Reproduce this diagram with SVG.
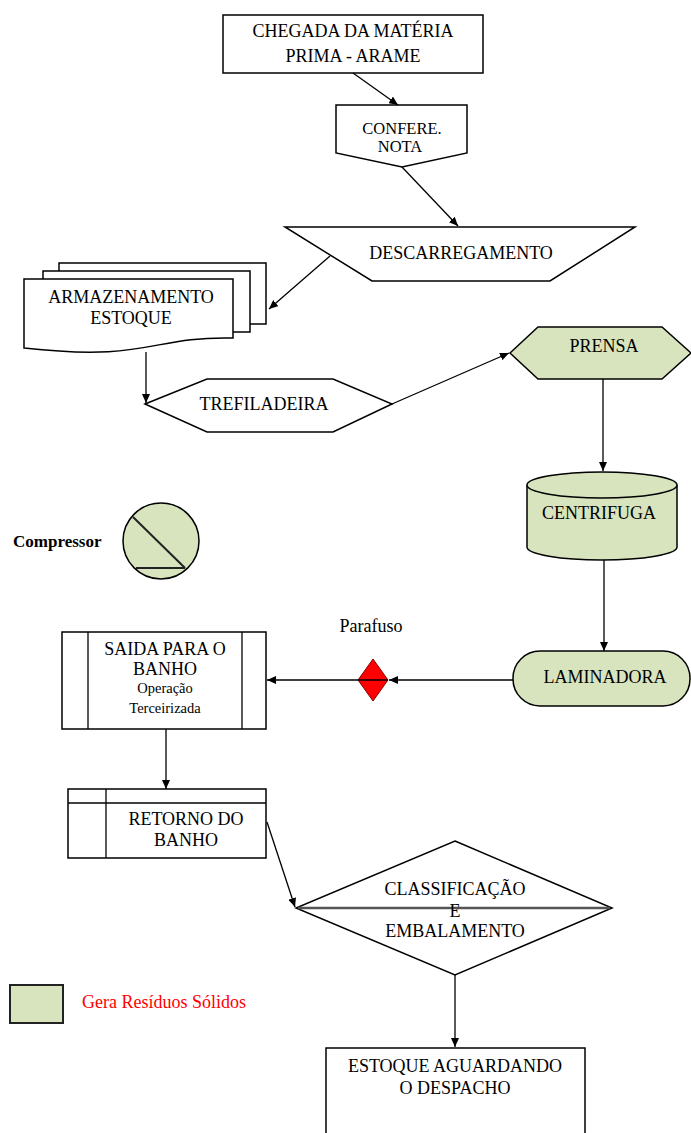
<svg xmlns="http://www.w3.org/2000/svg" width="691" height="1133" viewBox="0 0 691 1133">
<style>
.s{stroke:#000;stroke-width:1.5;fill:#fff}
.g{fill:#d7e4bd}
.t{font-family:"Liberation Serif","Times New Roman",serif;font-size:18px;fill:#000;text-anchor:middle}
.sm{font-size:14.5px}
.c{fill:none;stroke:#000;stroke-width:1.3}
</style>
<defs>
<marker id="ah" markerUnits="userSpaceOnUse" markerWidth="10" markerHeight="8" refX="9" refY="4" orient="auto">
<path d="M0,0 L9,4 L0,8 Z" fill="#000"/>
</marker>
</defs>
<rect width="691" height="1133" fill="#fff"/>

<g id="chegada">
<rect class="s" x="223" y="15" width="260" height="58"/>
<text class="t" x="353" y="37">CHEGADA DA MATÉRIA</text>
<text class="t" x="353" y="62">PRIMA - ARAME</text>
</g>

<g id="confere">
<path class="s" d="M336,105 H467 V153 L402,167 L336,153 Z"/>
<text class="t" x="402" y="134" style="font-size:16.5px">CONFERE.</text>
<text class="t" x="400" y="152" style="font-size:16.5px">NOTA</text>
</g>

<g id="descarregamento">
<path class="s" d="M285,227 H635 L550,281 H372 Z"/>
<text class="t" x="461" y="259">DESCARREGAMENTO</text>
</g>

<g id="armazenamento">
<rect class="s" x="59" y="263" width="207" height="61"/>
<rect class="s" x="43" y="271" width="207" height="61"/>
<path class="s" d="M24,279 H233 V338 C150,336 150,362 24,348 Z"/>
<text class="t" x="131" y="303">ARMAZENAMENTO</text>
<text class="t" x="131" y="324">ESTOQUE</text>
</g>

<g id="trefiladeira">
<path class="s" d="M145,404 L207,379 H333 L392,404 L333,432 H207 Z"/>
<text class="t" x="264" y="410">TREFILADEIRA</text>
</g>

<g id="prensa">
<path class="s g" d="M510,353 L538,327 H662 L691,353 L662,379 H538 Z"/>
<text class="t" x="604" y="352">PRENSA</text>
</g>

<g id="centrifuga">
<path class="s g" d="M527,485 V547 A75,13 0 0 0 677,547 V485"/>
<ellipse class="s g" cx="602" cy="485" rx="75" ry="13"/>
<text class="t" x="599" y="519">CENTRIFUGA</text>
</g>

<g id="laminadora">
<rect class="s g" x="513" y="651" width="177" height="55" rx="27" ry="27"/>
<text class="t" x="605" y="683">LAMINADORA</text>
</g>

<g id="parafuso">
<path d="M373,659 L388,680 L373,701 L358,680 Z" fill="#ff0000" stroke="#8b0000" stroke-width="1"/>
<text class="t" x="371" y="632">Parafuso</text>
</g>

<g id="compressor">
<circle class="s g" cx="161" cy="541" r="38"/>
<line x1="133" y1="517" x2="185" y2="568" stroke="#222" stroke-width="2"/>
<line x1="136" y1="568" x2="185" y2="568" stroke="#222" stroke-width="2"/>
<text class="t" x="13" y="547" style="text-anchor:start;font-weight:bold;font-size:17px">Compressor</text>
</g>

<g id="saida">
<rect class="s" x="62" y="632" width="204" height="97"/>
<line class="c" x1="88" y1="632" x2="88" y2="729"/>
<line class="c" x1="242" y1="632" x2="242" y2="729"/>
<text class="t" x="165" y="655">SAIDA PARA O</text>
<text class="t" x="165" y="675">BANHO</text>
<text class="t sm" x="165" y="693">Operação</text>
<text class="t sm" x="165" y="713">Terceirizada</text>
</g>

<g id="retorno">
<rect class="s" x="68" y="789" width="198" height="69"/>
<line class="c" x1="68" y1="803" x2="266" y2="803"/>
<line class="c" x1="106" y1="789" x2="106" y2="858"/>
<text class="t" x="186" y="825">RETORNO DO</text>
<text class="t" x="186" y="846">BANHO</text>
</g>

<g id="classificacao">
<path class="s" d="M455,841 L612,908 L455,975 L296,908 Z"/>
<line x1="298" y1="908" x2="610" y2="908" stroke="#555" stroke-width="2.5"/>
<text class="t" x="455" y="895">CLASSIFICAÇÃO</text>
<text class="t" x="455" y="917">E</text>
<text class="t" x="455" y="937">EMBALAMENTO</text>
</g>

<g id="estoque">
<rect class="s" x="326" y="1048" width="259" height="100"/>
<text class="t" x="455" y="1072">ESTOQUE AGUARDANDO</text>
<text class="t" x="455" y="1094">O DESPACHO</text>
</g>

<g id="legenda">
<rect x="10" y="985" width="53" height="38" fill="#d7e4bd" stroke="#222" stroke-width="2"/>
<text class="t" x="82" y="1008" style="text-anchor:start;fill:#ff0000">Gera Resíduos Sólidos</text>
</g>

<g id="connectors">
<line class="c" x1="353" y1="73" x2="398" y2="105" marker-end="url(#ah)"/>
<line class="c" x1="402" y1="167" x2="458" y2="226" marker-end="url(#ah)"/>
<line class="c" x1="330" y1="256" x2="269" y2="309" marker-end="url(#ah)"/>
<line class="c" x1="146" y1="352" x2="146" y2="403" marker-end="url(#ah)"/>
<line class="c" x1="392" y1="404" x2="509" y2="353" marker-end="url(#ah)"/>
<line class="c" x1="603" y1="379" x2="603" y2="471" marker-end="url(#ah)"/>
<line class="c" x1="604" y1="560" x2="604" y2="651" marker-end="url(#ah)"/>
<line class="c" x1="513" y1="680" x2="389" y2="680" marker-end="url(#ah)"/>
<line class="c" x1="388" y1="680" x2="267" y2="680" marker-end="url(#ah)"/>
<line class="c" x1="166" y1="729" x2="166" y2="789" marker-end="url(#ah)"/>
<line class="c" x1="267" y1="822" x2="295" y2="907" marker-end="url(#ah)"/>
<line class="c" x1="455" y1="975" x2="455" y2="1047" marker-end="url(#ah)"/>
</g>
</svg>
